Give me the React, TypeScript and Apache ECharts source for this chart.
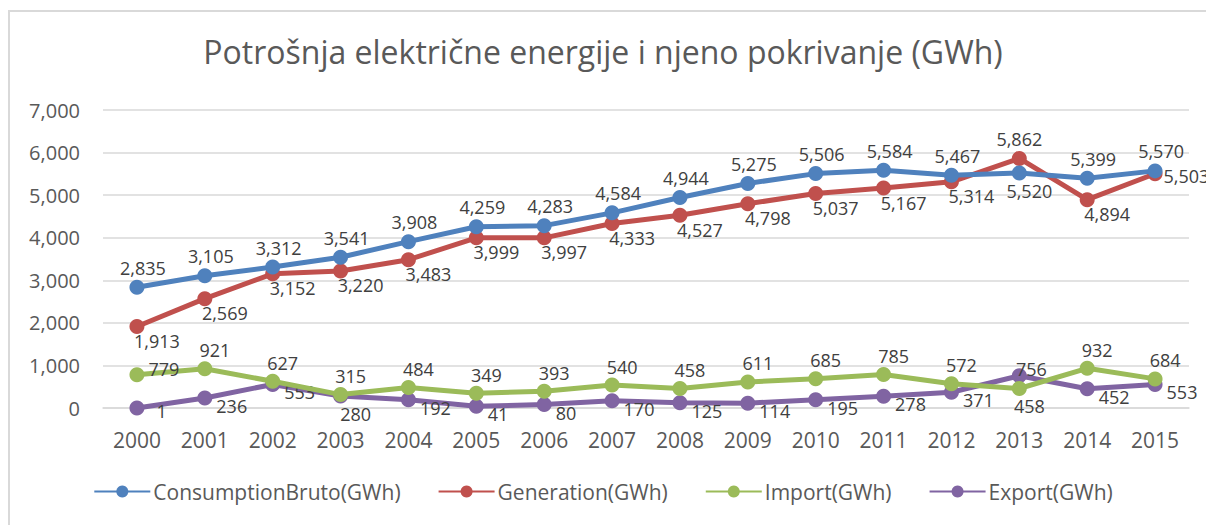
import React, { useEffect, useRef } from "react";
import * as echarts from "echarts";

const years = ["2000","2001","2002","2003","2004","2005","2006","2007","2008","2009","2010","2011","2012","2013","2014","2015"];
const consumption = [2835, 3105, 3312, 3541, 3908, 4259, 4283, 4584, 4944, 5275, 5506, 5584, 5467, 5520, 5399, 5570];
const generation = [1913, 2569, 3152, 3220, 3483, 3999, 3997, 4333, 4527, 4798, 5037, 5167, 5314, 5862, 4894, 5503];
const importVals = [779, 921, 627, 315, 484, 349, 393, 540, 458, 611, 685, 785, 572, 458, 932, 684];
const exportVals = [1, 236, 553, 280, 192, 41, 80, 170, 125, 114, 195, 278, 371, 756, 452, 553];
const seriesNames = ["ConsumptionBruto(GWh)", "Generation(GWh)", "Import(GWh)", "Export(GWh)"];
const colors = ["#4F81BD", "#C0504D", "#9BBB59", "#8064A2"];

const FONT = "'Open Sans', 'Noto Sans', sans-serif";
const TXT = "#595959";
const LBL = "#404040";

const fmt = (v: number) => v.toLocaleString("en-US");

function withLabels(values: number[], base: any, overrides: Record<number, any>) {
  return values.map((v, i) => (overrides[i] ? { value: v, label: { ...base, ...overrides[i] } } : v));
}

export default function App() {
  const ref = useRef<HTMLDivElement>(null);
  useEffect(() => {
    if (!ref.current) return;
    const chart = echarts.init(ref.current, undefined, { renderer: "svg" });
    const labelCommon = {
      show: true,
      color: LBL,
      fontSize: 18,
      fontFamily: FONT,
      formatter: (p: any) => fmt(p.value),
    };
    const consBase = { ...labelCommon, position: "top", distance: 3, offset: [6, 0] };
    const genBase = { ...labelCommon, position: "bottom", distance: 0, offset: [20, -2] };
    const impBase = { ...labelCommon, position: "top", distance: 2, offset: [10, 0] };
    const expBase = { ...labelCommon, position: "right", distance: 4, offset: [0, 8] };

    const mk = (i: number, values: number[], base: any, overrides: Record<number, any>) => ({
      name: seriesNames[i],
      type: "line",
      data: withLabels(values, base, overrides),
      symbol: "circle",
      symbolSize: 15,
      lineStyle: { width: 5, color: colors[i] },
      itemStyle: { color: colors[i] },
      label: base,
      z: 10 - i,
    });

    chart.setOption({
      animation: false,
      color: colors,
      title: {
        text: "Potrošnja električne energije i njeno pokrivanje (GWh)",
        left: "center",
        top: 30,
        textStyle: { color: TXT, fontSize: 32, fontWeight: "normal", fontFamily: FONT },
      },
      grid: { left: 103, right: 17, top: 110, bottom: 117 },
      legend: {
        bottom: 18,
        left: "center",
        itemWidth: 56,
        itemHeight: 15,
        itemGap: 37,
        textStyle: { color: TXT, fontSize: 21, fontFamily: FONT, padding: [0, 0, 0, -2] },
        data: seriesNames,
      },
      xAxis: {
        type: "category",
        data: years,
        boundaryGap: true,
        axisLine: { show: true, lineStyle: { color: "#D9D9D9", width: 1.5 } },
        axisTick: { show: false },
        axisLabel: { color: TXT, fontSize: 21, fontFamily: FONT, margin: 21 },
      },
      yAxis: {
        type: "value",
        min: 0,
        max: 7000,
        interval: 1000,
        axisLine: { show: false },
        axisTick: { show: false },
        axisLabel: { color: TXT, fontSize: 20, fontFamily: FONT, margin: 23, formatter: (v: number) => fmt(v) },
        splitLine: { lineStyle: { color: "#D9D9D9", width: 1.5 } },
      },
      graphic: [
        {
          type: "rect",
          shape: { x: 9, y: 11, width: 1400, height: 700 },
          style: { fill: "none", stroke: "#D9D9D9", lineWidth: 2 },
          silent: true,
        },
      ],
      series: [
        mk(0, consumption, consBase, { 13: { position: "bottom", distance: 1, offset: [10, 0] } }),
        mk(1, generation, genBase, {
          13: { position: "top", distance: 3, offset: [0, 0] },
          15: { position: "right", distance: 1, offset: [0, 2] },
        }),
        mk(2, importVals, impBase, {
          0: { position: "right", distance: 4, offset: [0, -6] },
          13: { position: "bottom", distance: 1, offset: [10, 0] },
        }),
        mk(3, exportVals, expBase, {
          0: { position: "right", distance: 12, offset: [0, 3] },
          3: { position: "bottom", distance: 1, offset: [15, 0] },
          13: { position: "top", distance: 0, offset: [12, 10] },
        }),
      ],
    });
    return () => chart.dispose();
  }, []);
  return (
    <div
      ref={ref}
      style={{ position: "absolute", left: 0, top: 0, width: 1206, height: 525, background: "#fff" }}
    />
  );
}
